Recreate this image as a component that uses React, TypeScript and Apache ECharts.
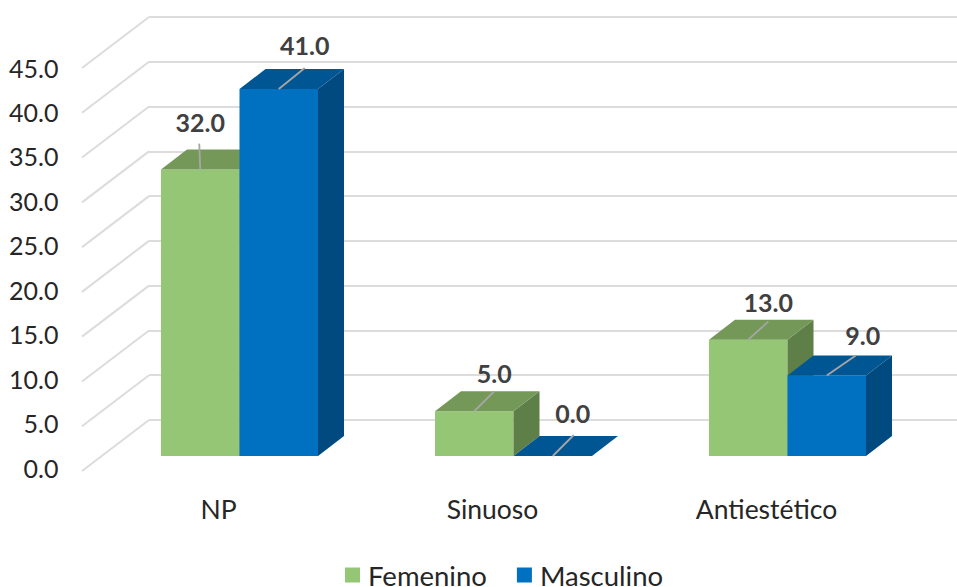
import React, { useEffect, useRef } from "react";
import * as echarts from "echarts";

const categories = ["NP", "Sinuoso", "Antiestético"];
const femenino = [32, 5, 13];
const masculino = [41, 0, 9];
const ticks = [0, 5, 10, 15, 20, 25, 30, 35, 40, 45];

const FONT = "Lato, Carlito, sans-serif";
const DEPTH_X = 26;
const DEPTH_Y = 20;
const GRID_COLOR = "#DCDCDC";

// label offset from the middle of the bar's top-front edge, and leader end
const fLabel = [
  { lx: 0, ly: -48, ex: -1, ey: -26 },
  { lx: 20, ly: -38, ex: 20, ey: -20 },
  { lx: 20, ly: -38, ex: 20, ey: -18 },
];
const mLabel = [
  { lx: 26, ly: -44, ex: 26, ey: -21 },
  { lx: 20, ly: -43, ex: 21, ey: -21 },
  { lx: 36, ly: -40, ex: 29, ey: -20 },
];

function barRenderer(side: number, front: string, top: string, flank: string, layout: any[]) {
  return (params: any, api: any) => {
    const cat = api.value(0);
    const val = api.value(1);
    const p = api.coord([cat, val]);
    const base = api.coord([cat, 0]);
    const w = api.size([1, 0])[0] * 0.2865;
    const x0 = side < 0 ? p[0] - w : p[0];
    const x1 = x0 + w;
    const yT = p[1];
    const yB = base[1];
    const mid = x0 + w / 2;
    const l = layout[cat];
    const children: any[] = [];
    if (yB - yT > 0.5) {
      children.push({
        type: "polygon",
        shape: { points: [[x0, yB], [x1, yB], [x1, yT], [x0, yT]] },
        style: { fill: front },
      });
    }
    children.push({
      type: "polygon",
      shape: { points: [[x1, yB], [x1 + DEPTH_X, yB - DEPTH_Y], [x1 + DEPTH_X, yT - DEPTH_Y], [x1, yT]] },
      style: { fill: flank },
    });
    children.push({
      type: "polygon",
      shape: { points: [[x0, yT], [x1, yT], [x1 + DEPTH_X, yT - DEPTH_Y], [x0 + DEPTH_X, yT - DEPTH_Y]] },
      style: { fill: top },
    });
    children.push({
      type: "line",
      shape: { x1: mid, y1: yT, x2: mid + l.ex, y2: yT + l.ey },
      style: { stroke: "#A6A6A6", lineWidth: 1.8 },
    });
    children.push({
      type: "text",
      style: {
        text: val.toFixed(1),
        x: mid + l.lx,
        y: yT + l.ly,
        align: "center",
        verticalAlign: "middle",
        fill: "#404040",
        font: `bold 25px ${FONT}`,
      },
    });
    return { type: "group", children };
  };
}

function diagRenderer(params: any, api: any) {
  const p = api.coord([0, api.value(0)]);
  const x = params.coordSys.x;
  return {
    type: "line",
    shape: { x1: x, y1: p[1], x2: x - 67, y2: p[1] + 51 },
    style: { stroke: GRID_COLOR, lineWidth: 2 },
  };
}

export default function App() {
  const ref = useRef<HTMLDivElement>(null);
  useEffect(() => {
    const chart = echarts.init(ref.current!, undefined, { renderer: "svg" });
    chart.setOption({
      animation: false,
      backgroundColor: "#fff",
      grid: [
        // back wall
        { left: 149, top: 17, width: 808, height: 403 },
        // plane of the bars' front faces
        { left: 102.5, top: 53.25, width: 822, height: 402.75 },
        // tick and category labels
        { left: 81.5, top: 67.5, width: 822, height: 400 },
      ],
      xAxis: [
        { type: "category", gridIndex: 0, data: categories, show: false },
        { type: "category", gridIndex: 1, data: categories, show: false },
        {
          type: "category",
          gridIndex: 2,
          data: categories,
          axisLine: { show: false },
          axisTick: { show: false },
          axisLabel: { color: "#262626", fontFamily: FONT, fontSize: 26.5, margin: 28 },
        },
      ],
      yAxis: [
        {
          type: "value",
          gridIndex: 0,
          min: 0,
          max: 45,
          interval: 5,
          axisLine: { show: false },
          axisTick: { show: false },
          axisLabel: { show: false },
          splitLine: { show: true, lineStyle: { color: GRID_COLOR, width: 2 } },
        },
        { type: "value", gridIndex: 1, min: 0, max: 45, interval: 5, show: false },
        {
          type: "value",
          gridIndex: 2,
          min: 0,
          max: 45,
          interval: 5,
          axisLine: { show: false },
          axisTick: { show: false },
          splitLine: { show: false },
          axisLabel: {
            color: "#262626",
            fontFamily: FONT,
            fontSize: 25,
            margin: 23,
            formatter: (v: number) => v.toFixed(1),
          },
        },
      ],
      legend: {
        data: [
          { name: "Femenino", icon: "rect" },
          { name: "Masculino", icon: "rect" },
        ],
        left: 345,
        top: 561,
        padding: 0,
        itemWidth: 15,
        itemHeight: 15,
        itemGap: 30,
        textStyle: {
          color: "#262626",
          fontFamily: FONT,
          fontSize: 27.5,
          lineHeight: 22,
          padding: [0, 0, 0, 3],
        },
      },
      series: [
        {
          name: "diag",
          type: "custom",
          xAxisIndex: 0,
          yAxisIndex: 0,
          coordinateSystem: "cartesian2d",
          data: ticks.map((t) => [t]),
          encode: { y: 0 },
          renderItem: diagRenderer,
          silent: true,
          z: 1,
        },
        {
          name: "Femenino",
          type: "custom",
          xAxisIndex: 1,
          yAxisIndex: 1,
          itemStyle: { color: "#95C675" },
          data: femenino.map((v, i) => [i, v]),
          encode: { x: 0, y: 1 },
          renderItem: barRenderer(-1, "#95C675", "#739858", "#5F7F49", fLabel),
          z: 2,
        },
        {
          name: "Masculino",
          type: "custom",
          xAxisIndex: 1,
          yAxisIndex: 1,
          itemStyle: { color: "#0070C0" },
          data: masculino.map((v, i) => [i, v]),
          encode: { x: 0, y: 1 },
          renderItem: barRenderer(1, "#0070C0", "#005693", "#004A80", mLabel),
          z: 3,
        },
      ],
    });
    return () => chart.dispose();
  }, []);
  return <div ref={ref} style={{ width: 957, height: 587, position: "fixed", left: 0, top: 0 }} />;
}
